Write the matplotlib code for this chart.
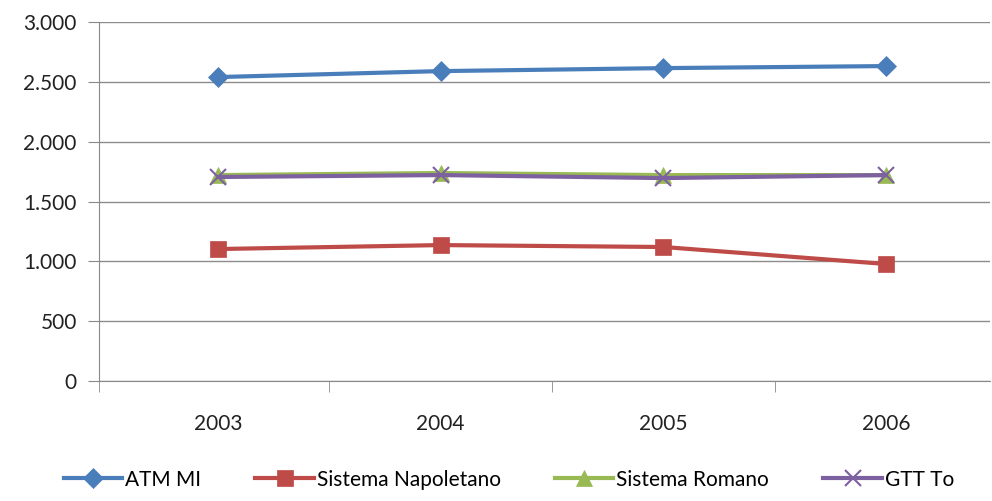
import matplotlib
matplotlib.use("Agg")
import matplotlib.pyplot as plt
from matplotlib.ticker import FuncFormatter

years = ["2003", "2004", "2005", "2006"]
atm_mi = [2540, 2590, 2615, 2632]
napoletano = [1103, 1136, 1120, 978]
romano = [1721, 1738, 1721, 1721]
gtt_to = [1705, 1721, 1696, 1721]

plt.rcParams["font.family"] = ["Lato", "DejaVu Sans"]

fig = plt.figure(figsize=(9.92, 5.01), dpi=100)
ax = fig.add_axes([0.0998, 0.2395, 0.8982, 0.7165])

x = list(range(len(years)))
series = [
    ("ATM MI", atm_mi, "#4A7EBB", "D", 10),
    ("Sistema Napoletano", napoletano, "#BE4B48", "s", 11),
    ("Sistema Romano", romano, "#98B954", "^", 12),
    ("GTT To", gtt_to, "#7D60A0", "x", 11),
]
for name, vals, col, mk, ms in series:
    ax.plot(x, vals, color=col, lw=3, marker=mk, markersize=ms,
            markeredgewidth=1.5 if mk == "x" else 0.5,
            markeredgecolor=col, label=name)

ax.set_ylim(0, 3000)
ax.set_yticks(range(0, 3001, 500))
ax.yaxis.set_major_formatter(FuncFormatter(lambda v, p: f"{int(v):,}".replace(",", ".")))
ax.set_xlim(-0.534, 3.467)
ax.set_xticks(x)
ax.set_xticklabels(years)
ax.set_xticks([-0.534, 0.5, 1.5, 2.5], minor=True)
ax.tick_params(axis="x", which="major", length=0, pad=24, labelsize=15, colors="#222222")
ax.tick_params(axis="x", which="minor", length=8, color="#888888")
ax.tick_params(axis="y", length=8, color="#888888", labelsize=15, labelcolor="#222222", pad=8)
ax.grid(axis="y", color="#8c8c8c", lw=1)
ax.set_axisbelow(True)
for s in ["top", "right"]:
    ax.spines[s].set_visible(False)
ax.spines["left"].set_color("#888888")
ax.spines["bottom"].set_color("#888888")

fig.legend(loc="lower center", bbox_to_anchor=(0.513, -0.015), ncol=4, frameon=False,
           fontsize=15, handlelength=2.8, handletextpad=0.15, columnspacing=2.6)

fig.savefig("out.png", dpi=100)
